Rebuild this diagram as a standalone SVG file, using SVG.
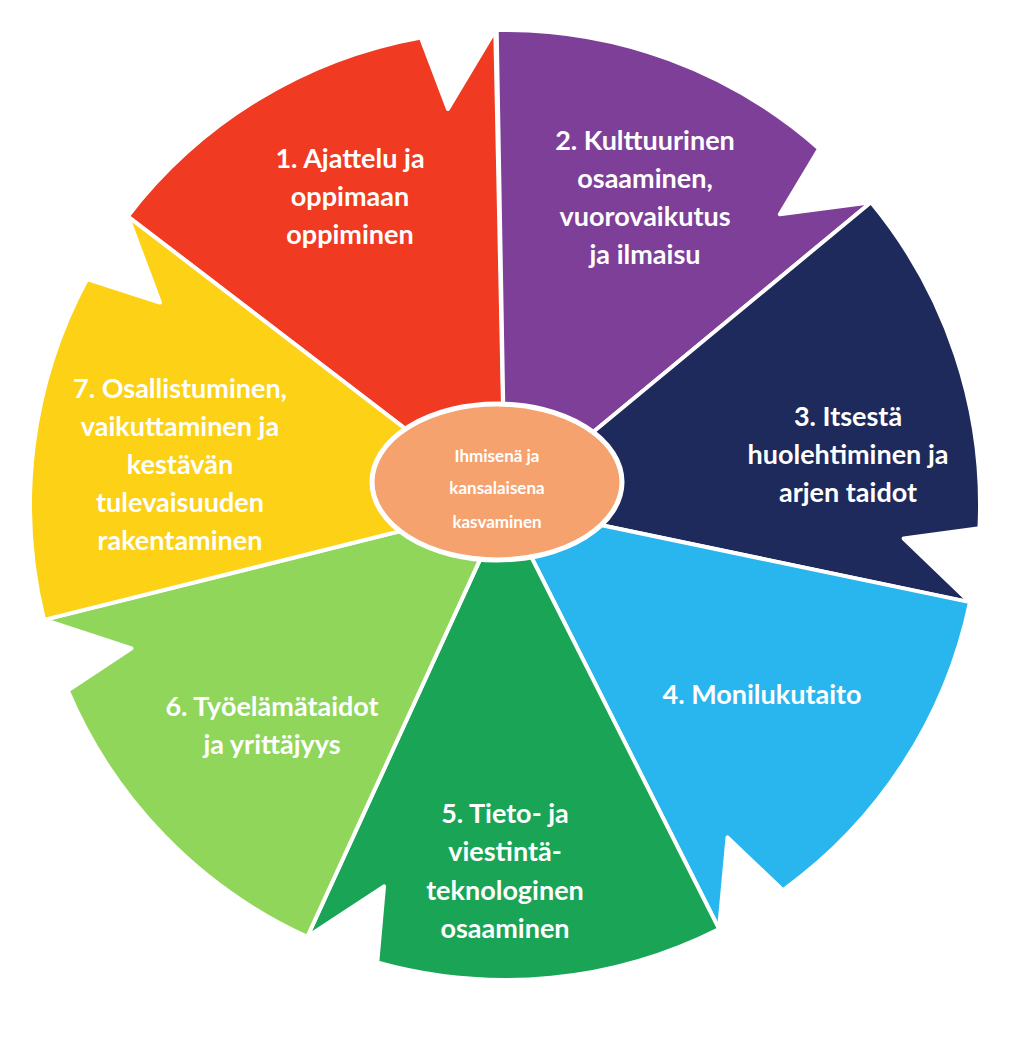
<svg xmlns="http://www.w3.org/2000/svg" width="1024" height="1039" viewBox="0 0 1024 1039">
<style>
.w{stroke:#fff;stroke-width:4;stroke-linejoin:round}
.t{font-family:Lato,"Liberation Sans",sans-serif;font-weight:bold;font-size:27px;fill:#fff;text-anchor:middle}
.c{font-family:Lato,"Liberation Sans",sans-serif;font-weight:bold;font-size:17px;fill:#fff;text-anchor:middle}
</style>
<defs>
<path id="wedge" d="M0,0 L0,-475 A475,475 0 0 1 320.3,-350.8 L279.9,-285.8 L371.4,-296.2 Z"/>
</defs>
<rect width="1024" height="1039" fill="#fff"/>
<g transform="translate(505,505)">
<g id="n1"><use href="#wedge" class="w" fill="#f03a22" transform="rotate(307.4)"/></g>
<g id="n2"><use href="#wedge" class="w" fill="#7d3f98" transform="rotate(-1)"/></g>
<g id="n3"><use href="#wedge" class="w" fill="#1f2a5c" transform="rotate(50.4)"/></g>
<g id="n4"><use href="#wedge" class="w" fill="#29b5ee" transform="rotate(101.8)"/></g>
<g id="n5"><use href="#wedge" class="w" fill="#1aa456" transform="rotate(153.2)"/></g>
<g id="n6"><use href="#wedge" class="w" fill="#8fd65a" transform="rotate(204.6)"/></g>
<g id="n7"><use href="#wedge" class="w" fill="#fcd116" transform="rotate(256)"/></g>
</g>
<g id="connectors"/>
<g id="labels">
<text class="t" x="350" y="168">1. Ajattelu ja</text><text class="t" x="350" y="206">oppimaan</text><text class="t" x="350" y="244">oppiminen</text>
<text class="t" x="645" y="150">2. Kulttuurinen</text><text class="t" x="645" y="188">osaaminen,</text><text class="t" x="645" y="226">vuorovaikutus</text><text class="t" x="645" y="264">ja ilmaisu</text>
<text class="t" x="848" y="426">3. Itsestä</text><text class="t" x="848" y="464">huolehtiminen ja</text><text class="t" x="848" y="502">arjen taidot</text>
<text class="t" x="762" y="704">4. Monilukutaito</text>
<text class="t" x="505" y="823">5. Tieto- ja</text><text class="t" x="505" y="861">viestintä-</text><text class="t" x="505" y="900">teknologinen</text><text class="t" x="505" y="938">osaaminen</text>
<text class="t" x="272" y="716">6. Työelämätaidot</text><text class="t" x="272" y="754">ja yrittäjyys</text>
<text class="t" x="180" y="398">7. Osallistuminen,</text><text class="t" x="180" y="436">vaikuttaminen ja</text><text class="t" x="180" y="474">kestävän</text><text class="t" x="180" y="512">tulevaisuuden</text><text class="t" x="180" y="550">rakentaminen</text>
</g>
<g id="center">
<ellipse cx="497" cy="482" rx="125" ry="78" fill="#f6a26e" stroke="#fff" stroke-width="5"/>
<text class="c" x="497" y="462">Ihmisenä ja</text><text class="c" x="497" y="494">kansalaisena</text><text class="c" x="497" y="528">kasvaminen</text>
</g>
</svg>
